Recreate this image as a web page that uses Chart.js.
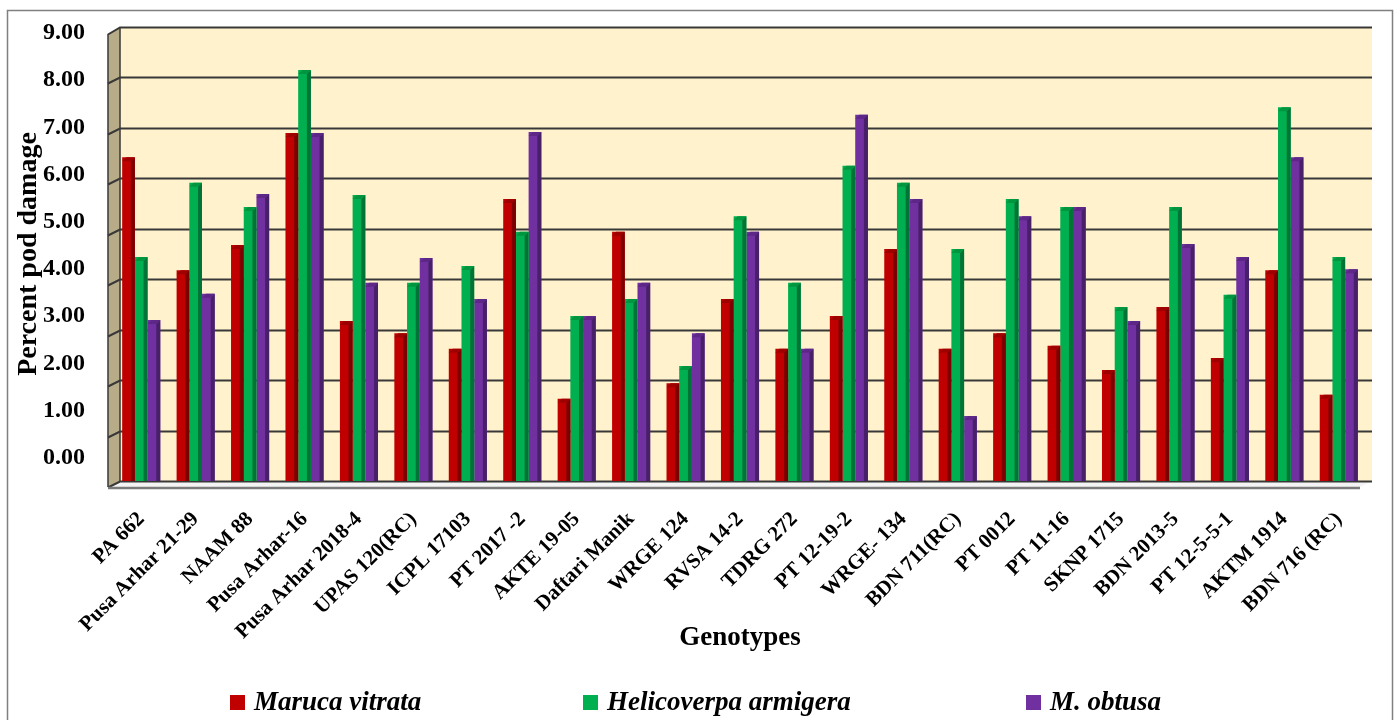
<!DOCTYPE html>
<html>
<head>
<meta charset="utf-8">
<title>Percent pod damage by genotype</title>
<script src="https://cdn.jsdelivr.net/npm/chart.js@4.4.1/dist/chart.umd.min.js"></script>
<style>
  html, body { margin: 0; padding: 0; background: #ffffff; }
  #wrap { position: relative; width: 1398px; height: 720px; }
  canvas { display: block; }
</style>
</head>
<body>
<div id="wrap"><canvas id="chart" width="1398" height="720"></canvas></div>
<script>
// Genotypes on the category axis
const genotypes = [
  'PA 662', 'Pusa Arhar 21-29', 'NAAM 88', 'Pusa Arhar-16', 'Pusa Arhar 2018-4',
  'UPAS 120(RC)', 'ICPL 17103', 'PT 2017 -2', 'AKTE 19-05', 'Daftari Manik',
  'WRGE 124', 'RVSA 14-2', 'TDRG 272', 'PT 12-19-2', 'WRGE- 134',
  'BDN 711(RC)', 'PT 0012', 'PT 11-16', 'SKNP 1715', 'BDN 2013-5',
  'PT 12-5-5-1', 'AKTM 1914', 'BDN 716 (RC)'
];

// Percent pod damage per pest
const marucaVitrata = [
  6.42, 4.18, 4.68, 6.90, 3.17, 2.93, 2.62, 5.59, 1.63, 4.94, 1.94, 3.61,
  2.62, 3.27, 4.60, 2.62, 2.93, 2.68, 2.20, 3.45, 2.44, 4.18, 1.71
];
const helicoverpaArmigera = [
  4.44, 5.91, 5.43, 8.15, 5.67, 3.93, 4.26, 4.94, 3.27, 3.61, 2.28, 5.25,
  3.93, 6.25, 5.91, 4.60, 5.59, 5.43, 3.45, 5.43, 3.69, 7.41, 4.44
];
const mObtusa = [
  3.19, 3.71, 5.69, 6.90, 3.93, 4.42, 3.61, 6.92, 3.27, 3.93, 2.93, 4.94,
  2.62, 7.26, 5.59, 1.29, 5.25, 5.43, 3.17, 4.70, 4.44, 6.42, 4.20
];

const seriesNames = ['Maruca vitrata', 'Helicoverpa armigera', 'M. obtusa'];
const yTickValues = [0, 1, 2, 3, 4, 5, 6, 7, 8, 9];

const SERIF = "'Times New Roman', 'Liberation Serif', serif";
const frontColors = ['#C00000', '#00B050', '#7030A0'];
const sideColors  = ['#7C0000', '#007436', '#48206A'];
const topColors   = ['#9E0000', '#00953F', '#5C2787'];

// Back wall, side wall, floor and gridlines of the 3-D plot box
const wallPlugin = {
  id: 'wall3d',
  beforeDatasetsDraw(chart) {
    const { ctx, chartArea: { left, right, top, bottom }, scales: { y } } = chart;
    const dx = 6, side = 12, drop = 6;
    const wl = left + dx, wr = right + dx;
    ctx.save();
    ctx.fillStyle = '#FFF2CC';
    ctx.fillRect(wl, top, wr - wl, bottom - top);

    ctx.beginPath();
    ctx.moveTo(wl - side, top + 7);
    ctx.lineTo(wl, top);
    ctx.lineTo(wl, bottom);
    ctx.lineTo(wl - side, bottom + drop);
    ctx.closePath();
    ctx.fillStyle = '#B8AC88';
    ctx.fill();

    ctx.beginPath();
    ctx.moveTo(wl, bottom);
    ctx.lineTo(wr, bottom);
    ctx.lineTo(wr - side, bottom + drop);
    ctx.lineTo(wl - side, bottom + drop);
    ctx.closePath();
    ctx.fillStyle = '#F4F4F4';
    ctx.fill();

    ctx.lineWidth = 2;
    ctx.strokeStyle = '#383838';
    yTickValues.forEach(v => {
      const py = Math.round(y.getPixelForValue(v)) + 0.5;
      ctx.beginPath();
      ctx.moveTo(wl - side, py + (v === 9 ? 7 : drop));
      ctx.lineTo(wl, py);
      ctx.lineTo(wr, py);
      ctx.stroke();
    });

    ctx.lineWidth = 1.5;
    ctx.beginPath();
    ctx.moveTo(wl - side, top + 7);
    ctx.lineTo(wl - side, bottom + drop);
    ctx.moveTo(wl, top);
    ctx.lineTo(wl, bottom);
    ctx.stroke();

    ctx.strokeStyle = '#7A7A7A';
    ctx.lineWidth = 2.5;
    ctx.beginPath();
    ctx.moveTo(wl - side, bottom + drop + 1);
    ctx.lineTo(wr - side, bottom + drop + 1);
    ctx.stroke();
    ctx.restore();
  }
};

// Side and top faces on every column
const columnFacesPlugin = {
  id: 'columnFaces',
  afterDatasetsDraw(chart) {
    const ctx = chart.ctx;
    const d = 4;
    ctx.save();
    chart.data.datasets.forEach((ds, i) => {
      chart.getDatasetMeta(i).data.forEach(bar => {
        const { x, y, base, width } = bar.getProps(['x', 'y', 'base', 'width'], true);
        const l = x - width / 2, r = x + width / 2;
        ctx.fillStyle = sideColors[i];
        ctx.beginPath();
        ctx.moveTo(r - d, y + d);
        ctx.lineTo(r, y);
        ctx.lineTo(r, base);
        ctx.lineTo(r - d, base);
        ctx.closePath();
        ctx.fill();
        ctx.fillStyle = topColors[i];
        ctx.beginPath();
        ctx.moveTo(l, y + d);
        ctx.lineTo(l + d, y);
        ctx.lineTo(r, y);
        ctx.lineTo(r - d, y + d);
        ctx.closePath();
        ctx.fill();
      });
    });
    ctx.restore();
  }
};

// Series key along the bottom, plus the outer frame
const keyPlugin = {
  id: 'seriesKey',
  afterDraw(chart) {
    const ctx = chart.ctx;
    const boxX = [230, 583, 1026];
    const cy = 703;
    ctx.save();
    ctx.font = 'italic bold 27px ' + SERIF;
    ctx.textBaseline = 'middle';
    ctx.textAlign = 'left';
    seriesNames.forEach((name, i) => {
      ctx.fillStyle = frontColors[i];
      ctx.fillRect(boxX[i], cy - 8, 15, 15);
      ctx.fillStyle = '#000000';
      ctx.fillText(name, boxX[i] + 24, cy);
    });
    ctx.strokeStyle = '#808080';
    ctx.lineWidth = 1.5;
    ctx.strokeRect(7.5, 10.5, 1385, 720);
    ctx.restore();
  }
};

new Chart(document.getElementById('chart'), {
  type: 'bar',
  data: {
    labels: genotypes,
    datasets: [
      { label: seriesNames[0], data: marucaVitrata, backgroundColor: frontColors[0] },
      { label: seriesNames[1], data: helicoverpaArmigera, backgroundColor: frontColors[1] },
      { label: seriesNames[2], data: mObtusa, backgroundColor: frontColors[2] }
    ]
  },
  options: {
    responsive: false,
    devicePixelRatio: 1,
    animation: false,
    events: [],
    layout: { padding: { top: 27, right: 32, bottom: 55, left: 0 } },
    datasets: {
      bar: { categoryPercentage: 0.7, barPercentage: 1.0, borderWidth: 0 }
    },
    plugins: {
      legend: { display: false },
      tooltip: { enabled: false }
    },
    scales: {
      x: {
        grid: { display: false, drawTicks: false },
        border: { display: false },
        ticks: {
          autoSkip: false,
          minRotation: 45,
          maxRotation: 45,
          padding: 26,
          color: '#000000',
          font: { family: SERIF, size: 21, weight: 'bold' }
        },
        title: {
          display: true,
          text: 'Genotypes',
          color: '#000000',
          font: { family: SERIF, size: 27, weight: 'bold' },
          padding: { top: 0, bottom: 11 }
        },
        afterFit(scale) { scale.height = 184; }
      },
      y: {
        display: false,
        min: 0,
        max: 9
      },
      yLabels: {
        type: 'linear',
        position: 'left',
        weight: 1,
        min: -0.49,
        max: 9.127,
        grid: { display: false, drawTicks: true, tickLength: 26 },
        border: { display: false },
        afterBuildTicks(scale) {
          scale.ticks = yTickValues.map(v => ({ value: v }));
        },
        ticks: {
          padding: 3,
          color: '#000000',
          font: { family: SERIF, size: 24, weight: 'bold' },
          callback: v => Number(v).toFixed(2)
        },
        title: {
          display: true,
          text: 'Percent pod damage',
          color: '#000000',
          font: { family: SERIF, size: 28, weight: 'bold' },
          padding: { top: 12, bottom: 0 }
        },
        afterFit(scale) { scale.width = 114; }
      }
    }
  },
  plugins: [wallPlugin, columnFacesPlugin, keyPlugin]
});
</script>
</body>
</html>
